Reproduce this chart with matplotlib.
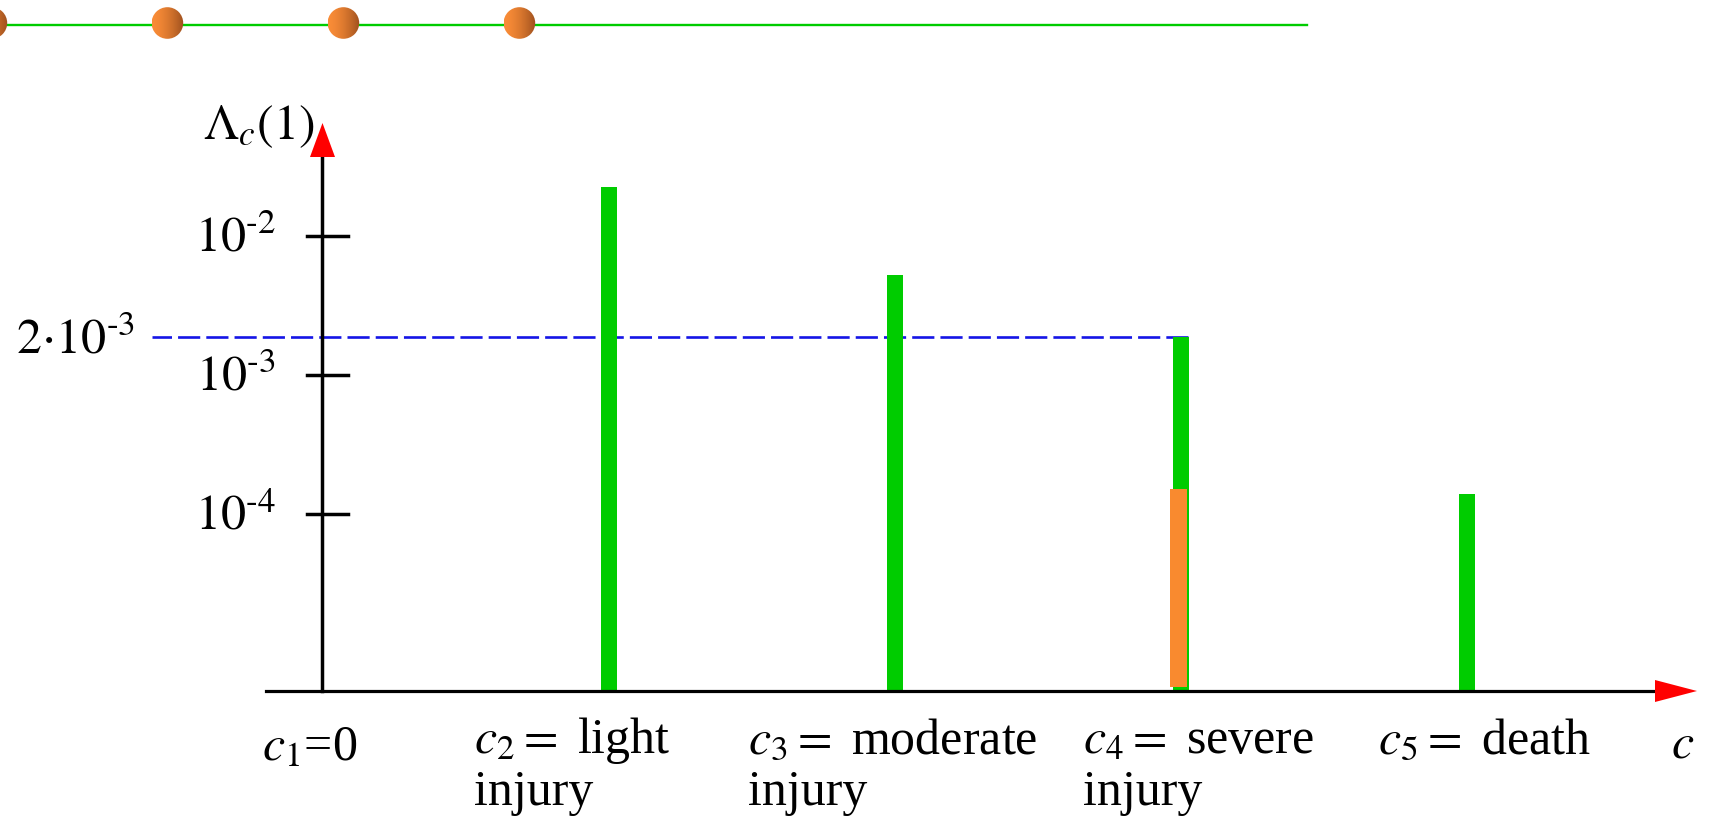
"""Schematic of the per-class rate Lambda_c(1) on a log axis, with the
2e-3 threshold drawn across to the severe-injury bar."""

import numpy as np
import matplotlib

matplotlib.use("Agg")
from matplotlib import pyplot as plt
from matplotlib.patches import Circle, Polygon

# --- data ----------------------------------------------------------------
BAR_CLASSES = [1, 2, 3, 4]  # c2..c5 (c1 = 0 has no bar)
LAMBDA_GREEN = [2.27e-2, 5.3e-3, 1.9e-3, 1.4e-4]
ORANGE_CLASSES = [3]  # c4 only
LAMBDA_ORANGE = [1.51e-4]
THRESHOLD = 1.9e-3  # drawn level of the "2e-3" line
THRESHOLD_LABEL = r"$2{\cdot}10^{\text{-}3}$"
Y_TICKS = [1e-2, 1e-3, 1e-4]
Y_TICK_LABELS = [r"$10^{\text{-}2}$", r"$10^{\text{-}3}$", r"$10^{\text{-}4}$"]
X_LABELS = [
    [r"$c_{1}$=0"],
    [r"$c_{2} =$ light", "injury"],
    [r"$c_{3} =$ moderate", "injury"],
    [r"$c_{4} =$ severe", "injury"],
    [r"$c_{5} =$ death"],
]

# --- layout (pixels of the 1712x816 canvas) --------------------------------
_W, _H = 1712, 816
_X0 = 322.5  # y axis / c1
_STEP = 286.0  # distance between classes
_ROW_E3 = 375.3  # row of 10^-3
_DECADE = 138.8  # pixels per decade
_XAXIS_ROW = 691
_LABEL_LEFT = [262, 474, 748, 1083, 1378]
_FS = 36

GREEN = "#00cc00"
ORANGE = "#f98a2f"
RED = "#ff0000"
BLUE = "#1515e6"


def data_x(p):
    return (p - _X0) / _STEP


def data_y(r):
    return 10 ** (-3 + (_ROW_E3 - r) / _DECADE)


def row_of(v):
    return _ROW_E3 - (np.log10(v) + 3) * _DECADE


plt.rcParams["font.family"] = "Liberation Serif"
plt.rcParams["mathtext.fontset"] = "stix"

fig = plt.figure(figsize=(_W / 100, _H / 100), dpi=100)

# data axes covering the whole canvas
ax = fig.add_axes([0, 0, 1, 1])
ax.set_yscale("log")
ax.set_xlim(data_x(0), data_x(_W))
ax.set_ylim(data_y(_H), data_y(0))
ax.axis("off")

base = data_y(_XAXIS_ROW)
ax.bar(BAR_CLASSES, np.array(LAMBDA_GREEN) - base, bottom=base,
       width=16 / _STEP, color=GREEN, zorder=2)
orange_base = data_y(687)
ax.bar(np.array(ORANGE_CLASSES) - 2.3 / _STEP, np.array(LAMBDA_ORANGE) - orange_base,
       bottom=orange_base, width=16.7 / _STEP, color=ORANGE, zorder=3)

# threshold line, drawn right-to-left so the dash pattern starts at the bar
ax.plot([data_x(1188), data_x(152)], [THRESHOLD, THRESHOLD], color=BLUE,
        lw=1.9, dashes=(8.4, 2.3), zorder=1)

# y ticks
for t in Y_TICKS:
    ax.plot([data_x(307), data_x(348)], [t, t], color="k", lw=2.5, zorder=4)

# --- decoration / text in pixel coordinates --------------------------------
deco = fig.add_axes([0, 0, 1, 1])
deco.set_xlim(0, _W)
deco.set_ylim(_H, 0)
deco.axis("off")

# top rule with gradient dots
deco.plot([0, 1307], [24.7, 24.7], color=GREEN, lw=1.7, zorder=1)
ramp = np.linspace(0, 1, 64) ** 1.6
c_left = np.array([249, 140, 55]) / 255
c_right = np.array([158, 80, 30]) / 255
grad = (c_left[None, :] * (1 - ramp[:, None]) + c_right[None, :] * ramp[:, None])[None, :, :]
for cx in [-8.6, 167.4, 343.4, 519.4]:
    cy, r = 23, 15.8
    im = deco.imshow(grad, extent=(cx - r, cx + r, cy + r, cy - r),
                     aspect="auto", interpolation="bilinear", zorder=2)
    im.set_clip_path(Circle((cx, cy), r, transform=deco.transData))
deco.set_xlim(0, _W)
deco.set_ylim(_H, 0)

# axes lines and red arrow heads
deco.plot([_X0, _X0], [_XAXIS_ROW, 150], color="k", lw=2.5, zorder=3)
deco.plot([266, 1660], [_XAXIS_ROW, _XAXIS_ROW], color="k", lw=2.3, zorder=3)
deco.add_patch(Polygon([[_X0 - 12.5, 157], [_X0 + 12.5, 157], [_X0, 123]],
                       closed=True, color=RED, lw=0, zorder=4))
deco.add_patch(Polygon([[1655, _XAXIS_ROW - 11], [1655, _XAXIS_ROW + 11], [1697, _XAXIS_ROW]],
                       closed=True, color=RED, lw=0, zorder=4))

# axis titles
deco.text(315, 139, r"$\Lambda_{c}(1)$", fontsize=_FS, ha="right", va="baseline")
deco.text(1671, 758, r"$c$", fontsize=_FS, ha="left", va="baseline")

# y tick labels
for t, lab in zip(Y_TICKS, Y_TICK_LABELS):
    deco.text(276, row_of(t) + 15.5, lab, fontsize=_FS, ha="right", va="baseline")
deco.text(135, 354, THRESHOLD_LABEL, fontsize=_FS, ha="right", va="baseline")

# class labels, one text per line
for i, (lines, left) in enumerate(zip(X_LABELS, _LABEL_LEFT)):
    first = 760 if i == 0 else 753
    for k, line in enumerate(lines):
        deco.text(left, first + 52 * k, line, fontsize=_FS, ha="left", va="baseline")

fig.savefig("out.png", dpi=100)
plt.close(fig)
